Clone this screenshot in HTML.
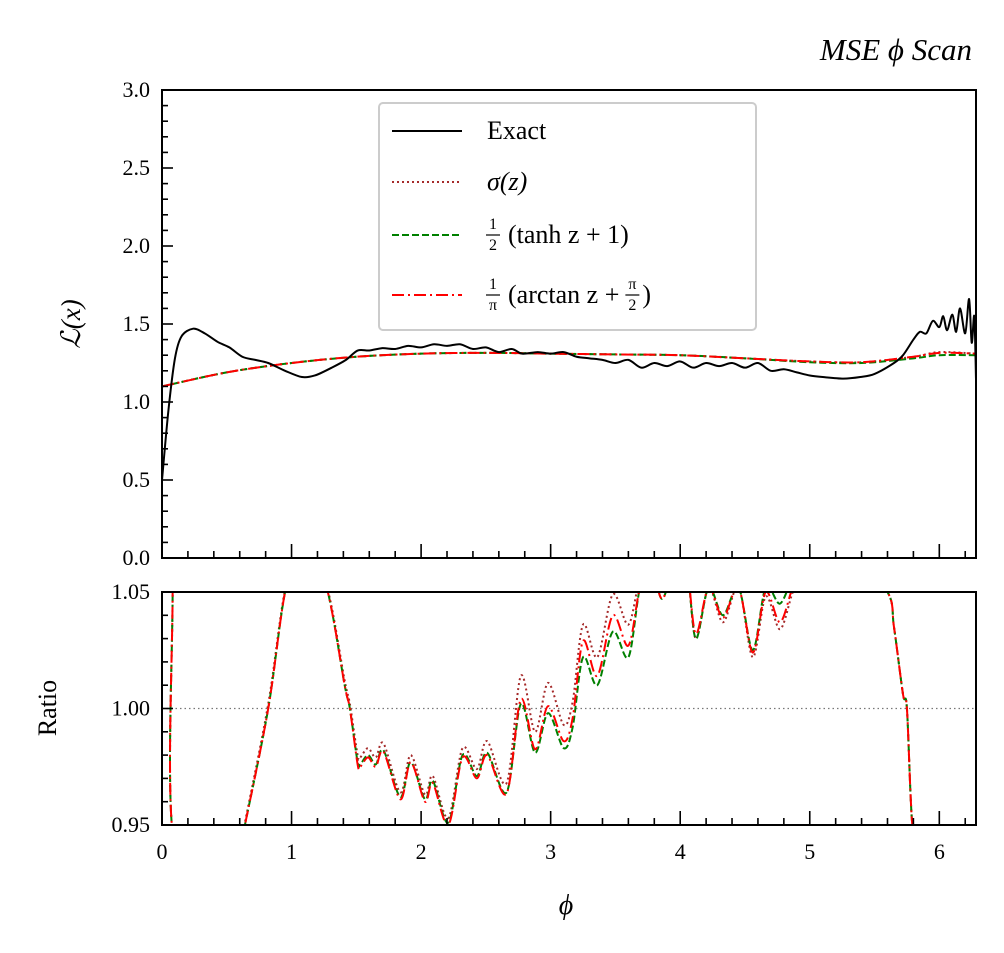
<!DOCTYPE html>
<html><head><meta charset="utf-8">
<style>
html,body{margin:0;padding:0;background:#fff;}
svg{display:block;font-family:"Liberation Serif",serif;}
</style></head>
<body>
<svg id="chart" width="1004" height="953" viewBox="0 0 1004 953" xmlns="http://www.w3.org/2000/svg">
<text x="972" y="60" text-anchor="end" font-size="31" font-style="italic" font-family="Liberation Serif, serif">MSE ϕ Scan</text>
<text transform="translate(80,324) rotate(-90)" text-anchor="middle" font-size="27" font-style="italic" font-family="Liberation Serif, serif">ℒ(x)</text>
<text transform="translate(56,708) rotate(-90)" text-anchor="middle" font-size="26" font-family="Liberation Serif, serif">Ratio</text>
<text x="566" y="914" text-anchor="middle" font-size="28" font-style="italic" font-family="Liberation Serif, serif">ϕ</text>
<g id="g"></g>
</svg>
<script>
// ---- data ----
const exactPhi = [0,0.05,0.1,0.15,0.24,0.33,0.43,0.52,0.62,0.72,0.82,0.95,1.08,1.18,1.31,1.42,1.51,1.6,1.7,1.8,1.9,2.0,2.1,2.2,2.3,2.4,2.5,2.6,2.7,2.78,2.9,3.0,3.1,3.2,3.3,3.4,3.5,3.6,3.7,3.8,3.9,4.0,4.1,4.2,4.3,4.4,4.5,4.6,4.7,4.8,4.9,5.0,5.1,5.26,5.39,5.5,5.65,5.72,5.8,5.85,5.9,5.95,6.0,6.03,6.06,6.1,6.13,6.16,6.2,6.23,6.25,6.27,6.283];
const exactVal = [0.5,0.95,1.28,1.42,1.47,1.44,1.385,1.35,1.29,1.27,1.25,1.20,1.16,1.17,1.22,1.27,1.33,1.33,1.345,1.34,1.36,1.35,1.37,1.36,1.37,1.34,1.35,1.32,1.34,1.31,1.32,1.31,1.32,1.29,1.28,1.27,1.25,1.27,1.22,1.25,1.23,1.26,1.22,1.25,1.23,1.25,1.22,1.25,1.20,1.21,1.19,1.17,1.16,1.15,1.16,1.18,1.25,1.30,1.40,1.45,1.44,1.52,1.48,1.55,1.46,1.56,1.45,1.60,1.44,1.66,1.38,1.55,1.15];
const smoothPhi = [0,0.5,1,1.5,2,2.5,3,3.5,4,4.5,5,5.4,5.8,6.0,6.283];
const sigmaVal  = [1.10,1.19,1.25,1.29,1.31,1.315,1.31,1.305,1.30,1.28,1.26,1.255,1.29,1.32,1.31];
const tanhVal   = [1.10,1.19,1.25,1.29,1.31,1.315,1.31,1.305,1.30,1.28,1.255,1.25,1.28,1.30,1.30];
const atanVal   = [1.10,1.19,1.25,1.29,1.31,1.315,1.31,1.305,1.30,1.28,1.26,1.255,1.29,1.315,1.31];
const ratioPhi   = [0,0.08,0.10,0.6,0.64,0.82,0.95,1.1,1.28,1.41,1.45,1.51,1.53,1.59,1.65,1.71,1.84,1.92,2.03,2.09,2.21,2.32,2.43,2.51,2.66,2.77,2.88,2.98,3.10,3.17,3.25,3.36,3.48,3.60,3.69,3.78,3.86,3.95,4.05,4.12,4.22,4.33,4.45,4.56,4.66,4.77,4.87,4.95,5.3,5.60,5.65,5.72,5.75,5.79,5.85,6.26,6.283];
const ratioSigma = [1.10,1.06,0.94,0.94,0.951,1.002,1.051,1.08,1.051,1.012,1.002,0.980,0.979,0.983,0.979,0.985,0.964,0.980,0.963,0.971,0.953,0.983,0.974,0.986,0.968,1.014,0.990,1.011,0.993,1.003,1.036,1.022,1.049,1.036,1.056,1.06,1.052,1.06,1.06,1.030,1.052,1.037,1.052,1.022,1.048,1.034,1.050,1.056,1.07,1.05,1.035,1.006,1.00,0.951,0.93,0.90,1.10];
const ratioTanh  = [1.10,1.06,0.94,0.94,0.950,1.000,1.050,1.08,1.050,1.010,1.000,0.977,0.976,0.980,0.976,0.982,0.962,0.977,0.961,0.969,0.951,0.980,0.971,0.981,0.964,1.002,0.981,0.998,0.983,0.992,1.022,1.010,1.033,1.022,1.052,1.06,1.047,1.06,1.06,1.030,1.052,1.040,1.052,1.025,1.052,1.045,1.056,1.056,1.07,1.05,1.035,1.006,1.00,0.951,0.93,0.90,1.10];
const ratioAtan  = [1.10,1.06,0.94,0.94,0.950,1.000,1.050,1.08,1.050,1.010,1.000,0.976,0.975,0.979,0.975,0.9815,0.961,0.977,0.960,0.968,0.950,0.979,0.970,0.980,0.9635,1.004,0.9825,1.001,0.986,0.996,1.029,1.014,1.040,1.027,1.052,1.06,1.047,1.06,1.06,1.032,1.052,1.039,1.052,1.024,1.050,1.037,1.052,1.056,1.07,1.05,1.035,1.006,1.00,0.951,0.93,0.90,1.10];
const topYTicks = ["0.0","0.5","1.0","1.5","2.0","2.5","3.0"];
const botYTicks = ["0.95","1.00","1.05"];
const xTicks = ["0","1","2","3","4","5","6"];

// ---- axes ----
const X0=162, X1=976, XMAX=2*Math.PI;
const xs = v => X0 + (v/XMAX)*(X1-X0);
const T0=90, T1=558; const ysTop = v => T1 - v/3*(T1-T0);
const B0=592, B1=825; const ysBot = v => B1 - (v-0.95)/0.10*(B1-B0);
const NS="http://www.w3.org/2000/svg";
const g=document.getElementById('g');
function mk(tag, attrs, parent){const e=document.createElementNS(NS,tag);for(const k in attrs)e.setAttribute(k,attrs[k]);(parent||g).appendChild(e);return e;}
function pathD(px,py,fx,fy){
  const P=px.map((p,i)=>[fx(p),fy(py[i])]);
  let d='M'+P[0][0].toFixed(2)+' '+P[0][1].toFixed(2);
  for(let i=0;i<P.length-1;i++){
    const p0=P[i>0?i-1:i],p1=P[i],p2=P[i+1],p3=P[i+2<P.length?i+2:i+1];
    const t=0.35;
    const c1=[p1[0]+(p2[0]-p0[0])*t/2*0.9,p1[1]+(p2[1]-p0[1])*t/2*0.9];
    const c2=[p2[0]-(p3[0]-p1[0])*t/2*0.9,p2[1]-(p3[1]-p1[1])*t/2*0.9];
    d+=' C'+c1[0].toFixed(2)+' '+c1[1].toFixed(2)+' '+c2[0].toFixed(2)+' '+c2[1].toFixed(2)+' '+p2[0].toFixed(2)+' '+p2[1].toFixed(2);
  }
  return d;
}

const defs=mk('defs',{});
const c1=mk('clipPath',{id:'clipTop'},defs); mk('rect',{x:X0,y:T0,width:X1-X0,height:T1-T0},c1);
const c2=mk('clipPath',{id:'clipBot'},defs); mk('rect',{x:X0,y:B0,width:X1-X0,height:B1-B0},c2);

let ref=mk('line',{x1:X0,x2:X1,y1:ysBot(1),y2:ysBot(1),stroke:'#777','stroke-width':1.3,'stroke-dasharray':'1.5 3'});



const topG=mk('g',{'clip-path':'url(#clipTop)'});
let e;
e=mk('path',{d:pathD(smoothPhi,sigmaVal,xs,ysTop),fill:'none',stroke:'#a52a2a','stroke-width':2,'stroke-dasharray':'2 3'},topG);


e=mk('path',{d:pathD(smoothPhi,tanhVal,xs,ysTop),fill:'none',stroke:'#008000','stroke-width':2,'stroke-dasharray':'7 3'},topG);


e=mk('path',{d:pathD(smoothPhi,atanVal,xs,ysTop),fill:'none',stroke:'#ff0000','stroke-width':2,'stroke-dasharray':'12 4 2 4'},topG);


e=mk('path',{d:pathD(exactPhi,exactVal,xs,ysTop),fill:'none',stroke:'#000','stroke-width':2},topG);



const botG=mk('g',{'clip-path':'url(#clipBot)'});
e=mk('path',{d:pathD(ratioPhi,ratioSigma,xs,ysBot),fill:'none',stroke:'#a52a2a','stroke-width':2,'stroke-dasharray':'2 3'},botG);


e=mk('path',{d:pathD(ratioPhi,ratioTanh,xs,ysBot),fill:'none',stroke:'#008000','stroke-width':2,'stroke-dasharray':'7 3'},botG);


e=mk('path',{d:pathD(ratioPhi,ratioAtan,xs,ysBot),fill:'none',stroke:'#ff0000','stroke-width':2,'stroke-dasharray':'12 4 2 4'},botG);



e=mk('rect',{x:X0,y:T0,width:X1-X0,height:T1-T0,fill:'none',stroke:'#000','stroke-width':2});


e=mk('rect',{x:X0,y:B0,width:X1-X0,height:B1-B0,fill:'none',stroke:'#000','stroke-width':2});



function tick(x1,y1,x2,y2){mk('line',{x1,y1,x2,y2,stroke:'#000','stroke-width':1.6});}
for(let i=0;i<=30;i++){const y=ysTop(i/10);const L=(i%5==0)?11:6;tick(X0,y,X0+L,y);}
for(let i=0;i<=10;i++){const y=ysBot(0.95+i/100);const L=(i%5==0)?11:6;tick(X0,y,X0+L,y);}
for(let i=0;i<=31;i++){const x=xs(i*0.2);const L=(i%5==0)?14:7;tick(x,T1,x,T1-L);tick(x,B1,x,B1-L);}
topYTicks.forEach(t=>{const el=mk('text',{x:X0-12,y:ysTop(parseFloat(t))+7,'text-anchor':'end','font-size':22,'font-family':'Liberation Serif, serif'});el.textContent=t;

});
botYTicks.forEach(t=>{const el=mk('text',{x:X0-12,y:ysBot(parseFloat(t))+7,'text-anchor':'end','font-size':22,'font-family':'Liberation Serif, serif'});el.textContent=t;

});
xTicks.forEach(t=>{const el=mk('text',{x:xs(parseFloat(t)),y:859,'text-anchor':'middle','font-size':22,'font-family':'Liberation Serif, serif'});el.textContent=t;

});

// legend
const lg=mk('g',{});


mk('rect',{x:379,y:103,width:377,height:227,rx:4,fill:'#fff','fill-opacity':0.9,stroke:'#ccc','stroke-width':2},lg);
const legStyles=[['#000',null],['#a52a2a','2 3'],['#008000','7 3'],['#ff0000','12 4 2 4']];
const legY=[131,182,235,295];
legStyles.forEach((s,i)=>{const a={x1:392,x2:462,y1:legY[i],y2:legY[i],stroke:s[0],'stroke-width':2};if(s[1])a['stroke-dasharray']=s[1];
const ln=mk('line',a,lg);

});
function txt(x,y,s,size,name){const t=mk('text',{x,y,'font-size':size,'font-family':'Liberation Serif, serif','text-anchor':'middle'},lg);t.textContent=s;

return t;}
function frac(x,y,n,d,name){txt(x,y-6,n,16,name);mk('line',{x1:x-7,x2:x+7,y1:y,y2:y,stroke:'#000','stroke-width':1.2},lg);txt(x,y+15,d,16,name);}
let t0=mk('text',{x:487,y:139,'font-size':26,'font-family':'Liberation Serif, serif'},lg);t0.textContent='Exact';


let t1=mk('text',{x:487,y:190,'font-size':26,'font-family':'Liberation Serif, serif','font-style':'italic'},lg);t1.textContent='σ(z)';


frac(493,235,'1','2','legend-entry-tanh-fraction');
let t2=mk('text',{x:508,y:243,'font-size':26,'font-family':'Liberation Serif, serif'},lg);t2.textContent='(tanh z + 1)';


frac(493,295,'1','π','legend-entry-arctan-fraction');
let t3=mk('text',{x:508,y:303,'font-size':26,'font-family':'Liberation Serif, serif'},lg);t3.textContent='(arctan z +';


let w3=508+t3.getComputedTextLength();
frac(w3+13,295,'π','2','legend-entry-arctan-pi-half');
let t4=mk('text',{x:w3+23,y:303,'font-size':26,'font-family':'Liberation Serif, serif'},lg);t4.textContent=')';


</script>
</body></html>
